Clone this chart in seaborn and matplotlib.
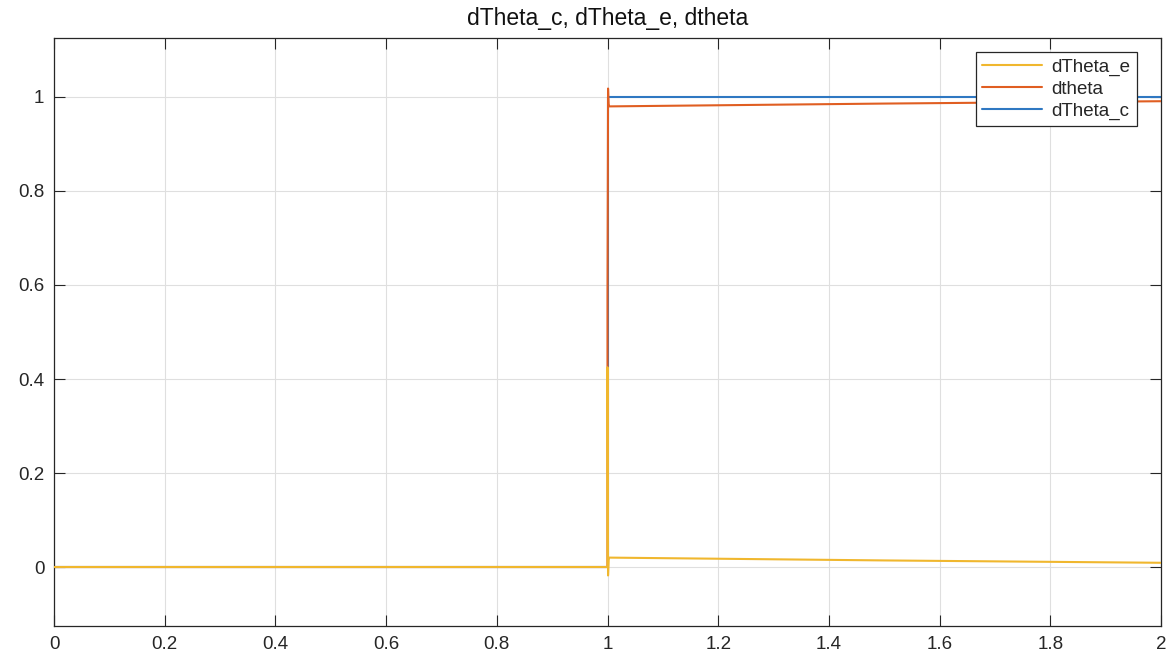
import matplotlib
matplotlib.use("Agg")
import matplotlib.pyplot as plt
import seaborn as sns
import pandas as pd
from matplotlib.ticker import FuncFormatter

# ---- data ----
t        = [0.0, 1.0, 1.0,   1.001, 1.002, 1.003, 1.5,   2.0]
dTheta_c = [0.0, 0.0, 1.0,   1.0,   1.0,   1.0,   1.0,   1.0]
dtheta   = [0.0, 0.0, 0.575, 1.018, 0.985, 0.980, 0.986, 0.991]
dTheta_e = [0.0, 0.0, 0.425, -0.018, 0.015, 0.020, 0.014, 0.009]

x_ticks = [0, 0.2, 0.4, 0.6, 0.8, 1.0, 1.2, 1.4, 1.6, 1.8, 2.0]
y_ticks = [0, 0.2, 0.4, 0.6, 0.8, 1.0]

series_names = ["dTheta_e", "dtheta", "dTheta_c"]
series_vals = {"dTheta_e": dTheta_e, "dtheta": dtheta, "dTheta_c": dTheta_c}
colors = {"dTheta_e": "#F0B72E", "dtheta": "#E05E22", "dTheta_c": "#2F78C2"}
zorders = {"dTheta_e": 4, "dtheta": 3, "dTheta_c": 2}

sns.set_theme(style="white")
plt.rcParams['font.family'] = ['Liberation Sans', 'DejaVu Sans']

fig = plt.figure(figsize=(11.66, 6.55), dpi=100)
ax = fig.add_axes([54/1166, 1-626/655, (1161-54)/1166, (626-38)/655])

for name in series_names:
    df = pd.DataFrame({"t": t, "v": series_vals[name]})
    sns.lineplot(data=df, x="t", y="v", ax=ax, estimator=None, sort=False,
                 color=colors[name], linewidth=1.5, label=name,
                 zorder=zorders[name])

ax.set_xlim(0, 2)
ax.set_ylim(-0.1255, 1.1255)
ax.set_xticks(x_ticks)
ax.set_yticks(y_ticks)
fmt = FuncFormatter(lambda v, p: ("%g" % round(v, 3)))
ax.xaxis.set_major_formatter(fmt)
ax.yaxis.set_major_formatter(fmt)
ax.set_xlabel("")
ax.set_ylabel("")

ax.grid(True, color="#DFDFDF", linewidth=0.8, zorder=0)
ax.set_axisbelow(True)
for sp in ax.spines.values():
    sp.set_color("#262626")
    sp.set_linewidth(0.9)
    sp.set_visible(True)

ax.tick_params(axis="both", which="major", direction="in", length=8,
               width=0.8, color="#262626", labelsize=13.5, labelcolor="#262626",
               top=True, right=True, bottom=True, left=True, pad=7)

ax.set_title("dTheta_c, dTheta_e, dtheta", fontsize=16.5, color="#111111", pad=9)

leg = ax.legend(loc="upper right", bbox_to_anchor=(1 - 24/1107, 1 - 14/588),
                fontsize=13.5, frameon=True, fancybox=False, framealpha=1,
                edgecolor="#262626", borderpad=0.35, handlelength=3.2,
                handletextpad=0.5, labelspacing=0.25, borderaxespad=0)
leg.get_frame().set_linewidth(0.9)

fig.savefig("out.png", dpi=100)
